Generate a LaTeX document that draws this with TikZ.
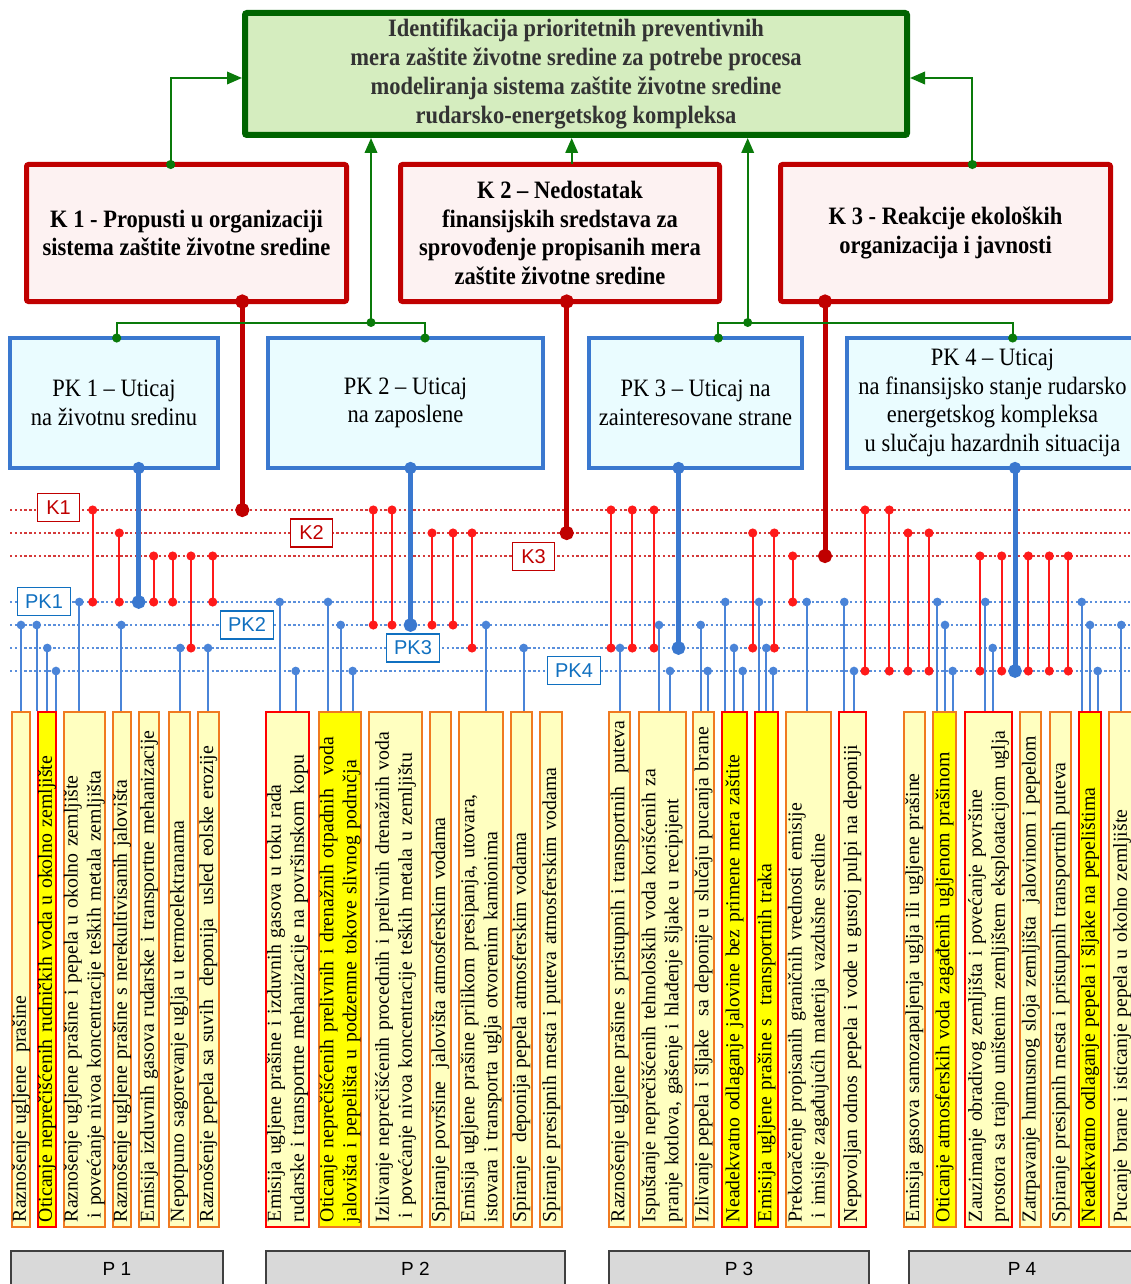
\documentclass[tikz,border=0pt]{standalone}
\usepackage{fontspec}
\setmainfont{Liberation Serif}
\newfontfamily\boxfont[FakeStretch=0.9]{Liberation Serif}
\newfontfamily\tagfont{Liberation Sans}
\usetikzlibrary{arrows.meta}
\newcommand\nohyph{\hyphenpenalty=10000\relax}

\definecolor{topgreen}{HTML}{006400}
\definecolor{topfill}{HTML}{D5EDBF}
\definecolor{toptext}{HTML}{333333}
\definecolor{kred}{HTML}{C00000}
\definecolor{kfill}{HTML}{FDF2F2}
\definecolor{pkblue}{HTML}{3A78CF}
\definecolor{pkfill}{HTML}{EAFCFF}
\definecolor{linkgreen}{HTML}{0A7A0A}
\definecolor{dotred}{HTML}{D43A3A}
\definecolor{dotblue}{HTML}{5A8FDC}
\definecolor{linkred}{HTML}{FF1A1A}
\definecolor{stemblue}{HTML}{4A84D8}
\definecolor{itemfill}{HTML}{FFFFC0}
\definecolor{itemyellow}{HTML}{FFFF00}
\definecolor{itemorange}{HTML}{F07A20}
\definecolor{itemred}{HTML}{FF0000}
\definecolor{pgray}{HTML}{D9D9D9}
\definecolor{pborder}{HTML}{404040}
\definecolor{tagblue}{HTML}{1070C0}

\tikzset{
  topbox/.style={draw=topgreen, fill=topfill, line width=6pt, rounded corners=2pt, align=center, text=toptext, font=\boxfont\bfseries\fontsize{25}{29}\selectfont},
  kbox/.style={draw=kred, fill=kfill, line width=5pt, rounded corners=2pt, outer sep=0pt, align=center, font=\boxfont\bfseries\fontsize{25}{28.5}\selectfont},
  pkbox/.style={draw=pkblue, fill=pkfill, line width=3.5pt, outer sep=0pt, align=center, font=\boxfont\fontsize{25}{28.5}\selectfont},
  ktag/.style={draw=kred, fill=white, text=kred, line width=1.3pt, minimum width=42pt, minimum height=28pt, inner sep=0pt, font=\tagfont\fontsize{20}{20}\selectfont},
  pktag/.style={draw=tagblue, fill=white, text=tagblue, line width=1.3pt, minimum width=53pt, minimum height=28pt, inner sep=0pt, font=\tagfont\fontsize{20}{20}\selectfont},
  kdots/.style={dotred, line width=2pt, dash pattern=on 2.4pt off 2.4pt},
  pkdots/.style={dotblue, line width=2pt, dash pattern=on 2.4pt off 2.4pt},
  rlink/.style={linkred, line width=2pt, {Circle[length=9pt]}-{Circle[length=9pt]}, shorten <=-4.5pt, shorten >=-4.5pt},
  bstem/.style={stemblue, line width=1.7pt, {Circle[length=8.6pt]}-, shorten <=-4.3pt},
  kthick/.style={kred, line width=5pt, {Circle[length=14pt]}-{Circle[length=14pt]}, shorten <=-7pt, shorten >=-7pt},
  pkthick/.style={pkblue, line width=5pt, {Circle[length=12pt]}-{Circle[length=13.5pt]}, shorten <=-6pt, shorten >=-6.75pt},
  glink/.style={linkgreen, line width=2pt},
  gtip/.style={-{Triangle[length=15pt,width=12.5pt]}},
  gdots/.style={{Circle[length=9pt]}-{Circle[length=9pt]}, shorten <=-4.5pt, shorten >=-4.5pt},
  item/.style={rotate=90, minimum width=515pt, text width=505pt, align=left, inner xsep=5pt, inner ysep=0pt, line width=1.8pt, font=\fontsize{19.8}{23}\selectfont\nohyph},
  itemlight/.style={item, draw=itemorange, fill=itemfill},
  itemhot/.style={item, draw=itemred, fill=itemyellow},
  itemwarn/.style={item, draw=itemred, fill=itemfill},
  itemsun/.style={item, draw=itemorange, fill=itemyellow},
  pbox/.style={draw=pborder, fill=pgray, line width=2pt, minimum height=36pt, font=\tagfont\fontsize{19}{19}\selectfont},
}

\begin{document}
\begin{tikzpicture}[x=1pt,y=-1pt]
\useasboundingbox (0,0) rectangle (1130,1284);

% main boxes
\node[topbox, minimum width=662pt, minimum height=122pt] (top) at (576,74) {Identifikacija prioritetnih preventivnih\\mera zaštite životne sredine za potrebe procesa\\modeliranja sistema zaštite životne sredine\\rudarsko-energetskog kompleksa};
\node[kbox, minimum width=320pt, minimum height=137pt] (k1) at (186.5,233) {K 1 - Propusti u organizaciji\\sistema zaštite životne sredine};
\node[kbox, minimum width=319pt, minimum height=137pt] (k2) at (560,233) {K 2 – Nedostatak\\finansijskih sredstava za\\sprovođenje propisanih mera\\zaštite životne sredine};
\node[kbox, minimum width=330pt, minimum height=137pt] (k3) at (945.5,233) {K 3 - Reakcije ekoloških\\organizacija i javnosti};
\node[pkbox, minimum width=208pt, minimum height=130pt] (pk1) at (114,403) {PK 1 – Uticaj\\na životnu sredinu};
\node[pkbox, minimum width=275pt, minimum height=130pt] (pk2) at (405.5,403) {PK 2 – Uticaj\\na zaposlene};
\node[pkbox, minimum width=213pt, minimum height=130pt] (pk3) at (695.5,403) {PK 3 – Uticaj na\\zainteresovane strane};
\node[pkbox, minimum width=291pt, minimum height=130pt] (pk4) at (992.5,403) {PK 4 – Uticaj\\na finansijsko stanje rudarsko\\energetskog kompleksa\\u slučaju hazardnih situacija};

% P 1
\node[itemlight, minimum height=18pt] (a1) at (21,969.5) {Raznošenje ugljene~ prašine};
\node[itemhot, minimum height=18.6pt] (a2) at (47,969.5) {Oticanje neprečišćenih rudničkih voda u okolno zemljište};
\node[itemlight, minimum height=41.3pt] (a3) at (84.3,969.5) {Raznošenje ugljene prašine i pepela u okolno zemljište\\\hspace{4pt}i povećanje nivoa koncentracije teških metala zemljišta};
\node[itemlight, minimum height=17pt] (a4) at (122.2,969.5) {Raznošenje ugljene prašine s nerekultivisanih jalovišta};
\node[itemlight, minimum height=19.7pt] (a5) at (149.2,969.5) {Emisija izduvnih gasova rudarske i transportne mehanizacije};
\node[itemlight, minimum height=21pt] (a6) at (179.2,969.5) {Nepotpuno sagorevanje uglja u termoelektranama};
\node[itemlight, minimum height=21.3pt] (a7) at (208.3,969.5) {Raznošenje pepela sa suvih~ deponija~ usled eolske erozije};
% P 2
\node[itemwarn, minimum height=43pt] (b1) at (287.5,969.5) {Emisija ugljene prašine i izduvnih gasova u toku rada\\rudarske i transportne mehanizacije na površinskom kopu};
\node[itemsun, minimum height=41.4pt] (b2) at (340,969.5) {Oticanje neprečišćenih prelivnih i drenažnih otpadnih~ voda\\jalovišta i pepelišta u podzemne tokove slivnog područja};
\node[itemlight, minimum height=52.4pt] (b3) at (395.5,969.5) {Izlivanje neprečišćenih procednih i prelivnih drenažnih voda\\\hspace{4pt}i povećanje nivoa koncentracije teških metala u zemljištu};
\node[itemlight, minimum height=20.7pt] (b4) at (440.3,969.5) {Spiranje površine~ jalovišta atmosferskim vodama};
\node[itemlight, minimum height=44.6pt] (b5) at (481,969.5) {Emisija ugljene prašine prilikom presipanja, utovara,\\istovara i transporta uglja otvorenim kamionima};
\node[itemlight, minimum height=20.7pt] (b6) at (521.3,969.5) {Spiranje~ deponija pepela atmosferskim vodama};
\node[itemlight, minimum height=22.3pt] (b7) at (551.2,969.5) {Spiranje presipnih mesta i puteva atmosferskim vodama};
% P 3
\node[itemlight, minimum height=20.7pt] (c1) at (619.7,969.5) {Raznošenje ugljene prašine s pristupnih i transportnih~ puteva};
\node[itemlight, minimum height=47pt] (c2) at (662.2,969.5) {Ispuštanje neprečišćenih tehnoloških voda korišćenih za\\pranje kotlova, gašenje i hlađenje šljake u recipijent};
\node[itemlight, minimum height=21pt] (c3) at (703.5,969.5) {Izlivanje pepela i šljake~ sa deponije u slučaju pucanja brane};
\node[itemhot, minimum height=25.6pt] (c4) at (734.5,969.5) {Neadekvatno odlaganje jalovine bez primene mera zaštite};
\node[itemhot, minimum height=22.7pt] (c5) at (766.7,969.5) {Emisija ugljene prašine s~ transportnih traka};
\node[itemlight, minimum height=44.7pt] (c6) at (808.3,969.5) {Prekoračenje propisanih graničnih vrednosti emisije\\\hspace{4pt}i imisije zagađujućih materija vazdušne sredine};
\node[itemwarn, minimum height=26.4pt] (c7) at (852.5,969.5) {Nepovoljan odnos pepela i vode u gustoj pulpi na deponiji};
% P 4
\node[itemlight, minimum height=21.3pt] (d1) at (914.3,969.5) {Emisija gasova samozapaljenja uglja ili ugljene prašine};
\node[itemsun, minimum height=22.4pt] (d2) at (944.5,969.5) {Oticanje atmosferskih voda zagađenih ugljenom prašinom};
\node[itemwarn, minimum height=47.3pt] (d3) at (988.7,969.5) {Zauzimanje obradivog zemljišta i povećanje površine\\prostora sa trajno uništenim zemljištem eksploatacijom uglja};
\node[itemlight, minimum height=21pt] (d4) at (1030.8,969.5) {Zatrpavanje humusnog sloja zemljišta~ jalovinom i pepelom};
\node[itemlight, minimum height=20.7pt] (d5) at (1060.7,969.5) {Spiranje presipnih mesta i pristupnih transportnih puteva};
\node[itemhot, minimum height=22.6pt] (d6) at (1090,969.5) {Neadekvatno odlaganje pepela i šljake na pepelištima};
\node[itemlight, minimum height=25.7pt] (d7) at (1122.2,969.5) {Pucanje brane i isticanje pepela u okolno zemljište};

% groups
\node[pbox, minimum width=212pt] (p1) at (117,1269) {P 1};
\node[pbox, minimum width=299pt] (p2) at (415.5,1269) {P 2};
\node[pbox, minimum width=260pt] (p3) at (739,1269) {P 3};
\node[pbox, minimum width=226pt] (p4) at (1022,1269) {P 4};

% levels
\coordinate (lk1) at (10,510);
\coordinate (lk2) at (10,533);
\coordinate (lk3) at (10,556);
\coordinate (lp1) at (10,602);
\coordinate (lp2) at (10,625);
\coordinate (lp3) at (10,648);
\coordinate (lp4) at (10,671);
\draw[kdots] (lk1) -- (lk1 -| 1130,0);
\draw[kdots] (lk2) -- (lk2 -| 1130,0);
\draw[kdots] (lk3) -- (lk3 -| 1130,0);
\draw[pkdots] (lp1) -- (lp1 -| 1130,0);
\draw[pkdots] (lp2) -- (lp2 -| 1130,0);
\draw[pkdots] (lp3) -- (lp3 -| 1130,0);
\draw[pkdots] (lp4) -- (lp4 -| 1130,0);
\node[ktag] (tagK1) at (58.5,507.5) {K1}; %label
\node[ktag] (tagK2) at (311.5,533) {K2}; %label
\node[ktag] (tagK3) at (533.5,556.5) {K3}; %label
\node[pktag] (tagPK1) at (44,601.5) {PK1}; %label
\node[pktag] (tagPK2) at (247,625) {PK2}; %label
\node[pktag] (tagPK3) at (413,648) {PK3}; %label
\node[pktag] (tagPK4) at (574,670.5) {PK4}; %label

% K -> PK links
\draw[rlink] (92.7,0 |- lk1) -- (92.7,0 |- lp1);
\draw[rlink] (119.3,0 |- lk2) -- (119.3,0 |- lp1);
\draw[rlink] (153.7,0 |- lk3) -- (153.7,0 |- lp1);
\draw[rlink] (172.7,0 |- lk3) -- (172.7,0 |- lp1);
\draw[rlink] (191,0 |- lk3) -- (191,0 |- lp3);
\draw[rlink] (212.7,0 |- lk3) -- (212.7,0 |- lp1);
\draw[rlink] (373.3,0 |- lk1) -- (373.3,0 |- lp2);
\draw[rlink] (392,0 |- lk1) -- (392,0 |- lp2);
\draw[rlink] (432,0 |- lk2) -- (432,0 |- lp2);
\draw[rlink] (453,0 |- lk2) -- (453,0 |- lp2);
\draw[rlink] (472,0 |- lk2) -- (472,0 |- lp3);
\draw[rlink] (611,0 |- lk1) -- (611,0 |- lp3);
\draw[rlink] (632.3,0 |- lk1) -- (632.3,0 |- lp3);
\draw[rlink] (654,0 |- lk1) -- (654,0 |- lp3);
\draw[rlink] (752.7,0 |- lk2) -- (752.7,0 |- lp3);
\draw[rlink] (774.3,0 |- lk2) -- (774.3,0 |- lp3);
\draw[rlink] (792.7,0 |- lk3) -- (792.7,0 |- lp1);
\draw[rlink] (865,0 |- lk1) -- (865,0 |- lp4);
\draw[rlink] (889.3,0 |- lk1) -- (889.3,0 |- lp4);
\draw[rlink] (908,0 |- lk2) -- (908,0 |- lp4);
\draw[rlink] (929,0 |- lk2) -- (929,0 |- lp4);
\draw[rlink] (980,0 |- lk3) -- (980,0 |- lp4);
\draw[rlink] (1001.7,0 |- lk3) -- (1001.7,0 |- lp4);
\draw[rlink] (1028.3,0 |- lk3) -- (1028.3,0 |- lp4);
\draw[rlink] (1049.3,0 |- lk3) -- (1049.3,0 |- lp4);
\draw[rlink] (1068.3,0 |- lk3) -- (1068.3,0 |- lp4);

% PK -> items
\draw[bstem] (21,0 |- lp2) -- (21,0 |- a1.east);
\draw[bstem] (36.7,0 |- lp2) -- (36.7,0 |- a2.east);
\draw[bstem] (47.3,0 |- lp3) -- (47.3,0 |- a2.east);
\draw[bstem] (56,0 |- lp4) -- (56,0 |- a2.east);
\draw[bstem] (79.3,0 |- lp1) -- (79.3,0 |- a3.east);
\draw[bstem] (121.3,0 |- lp2) -- (121.3,0 |- a4.east);
\draw[bstem] (180.3,0 |- lp3) -- (180.3,0 |- a6.east);
\draw[bstem] (208,0 |- lp3) -- (208,0 |- a7.east);
\draw[bstem] (279.7,0 |- lp1) -- (279.7,0 |- b1.east);
\draw[bstem] (295.7,0 |- lp4) -- (295.7,0 |- b1.east);
\draw[bstem] (328,0 |- lp1) -- (328,0 |- b2.east);
\draw[bstem] (340.7,0 |- lp2) -- (340.7,0 |- b2.east);
\draw[bstem] (352.7,0 |- lp4) -- (352.7,0 |- b2.east);
\draw[bstem] (486,0 |- lp2) -- (486,0 |- b5.east);
\draw[bstem] (523.7,0 |- lp3) -- (523.7,0 |- b6.east);
\draw[bstem] (620,0 |- lp3) -- (620,0 |- c1.east);
\draw[bstem] (659,0 |- lp2) -- (659,0 |- c2.east);
\draw[bstem] (670,0 |- lp4) -- (670,0 |- c2.east);
\draw[bstem] (700.7,0 |- lp2) -- (700.7,0 |- c3.east);
\draw[bstem] (707.7,0 |- lp4) -- (707.7,0 |- c3.east);
\draw[bstem] (725.3,0 |- lp1) -- (725.3,0 |- c4.east);
\draw[bstem] (734,0 |- lp3) -- (734,0 |- c4.east);
\draw[bstem] (742.7,0 |- lp4) -- (742.7,0 |- c4.east);
\draw[bstem] (759,0 |- lp1) -- (759,0 |- c5.east);
\draw[bstem] (766.3,0 |- lp3) -- (766.3,0 |- c5.east);
\draw[bstem] (773.3,0 |- lp4) -- (773.3,0 |- c5.east);
\draw[bstem] (806.7,0 |- lp1) -- (806.7,0 |- c6.east);
\draw[bstem] (844.3,0 |- lp1) -- (844.3,0 |- c7.east);
\draw[bstem] (854,0 |- lp4) -- (854,0 |- c7.east);
\draw[bstem] (937.3,0 |- lp1) -- (937.3,0 |- d2.east);
\draw[bstem] (945,0 |- lp2) -- (945,0 |- d2.east);
\draw[bstem] (952.7,0 |- lp4) -- (952.7,0 |- d2.east);
\draw[bstem] (985.3,0 |- lp1) -- (985.3,0 |- d3.east);
\draw[bstem] (992.7,0 |- lp3) -- (992.7,0 |- d3.east);
\draw[bstem] (1081.7,0 |- lp1) -- (1081.7,0 |- d6.east);
\draw[bstem] (1090,0 |- lp2) -- (1090,0 |- d6.east);
\draw[bstem] (1097.7,0 |- lp4) -- (1097.7,0 |- d6.east);
\draw[bstem] (1121.3,0 |- lp2) -- (1121.3,0 |- d7.east);

% boxes down to their levels
\draw[kthick] (k1.south -| 242.3,0) -- (242.3,0 |- lk1);
\draw[kthick] (k2.south -| 566.7,0) -- (566.7,0 |- lk2);
\draw[kthick] (k3.south -| 825,0) -- (825,0 |- lk3);
\draw[pkthick] (pk1.south -| 138.7,0) -- (138.7,0 |- lp1);
\draw[pkthick] (pk2.south -| 410.5,0) -- (410.5,0 |- lp2);
\draw[pkthick] (pk3.south -| 678.5,0) -- (678.5,0 |- lp3);
\draw[pkthick] (pk4.south -| 1015,0) -- (1015,0 |- lp4);

% up to the main box
\coordinate (busL) at (371,322.5);
\coordinate (busR) at (747.7,322.5);
\draw[glink,{Circle[length=9pt]}-{Triangle[length=15pt,width=12.5pt]},shorten <=-4.5pt] (k1.north -| 170.7,0) |- ([yshift=-4pt]top.west);
\draw[glink,{Circle[length=9pt]}-{Triangle[length=15pt,width=12.5pt]},shorten <=-4.5pt] (k3.north -| 972.3,0) |- ([yshift=-4pt]top.east);
\draw[glink,gtip] (k2.north -| 571.7,0) -- (571.7,0 |- top.south);
\draw[glink,gdots] (pk1.north -| 116.7,0) |- (busL) -| (pk2.north -| 425,0);
\draw[glink,gdots] (pk3.north -| 718.3,0) |- (busR) -| (pk4.north -| 1012.7,0);
\fill[linkgreen] (busL) circle (4.5pt);
\fill[linkgreen] (busR) circle (4.5pt);
\draw[glink,gtip] (busL) -- (busL |- top.south);
\draw[glink,gtip] (busR) -- (busR |- top.south);
\end{tikzpicture}
\end{document}
